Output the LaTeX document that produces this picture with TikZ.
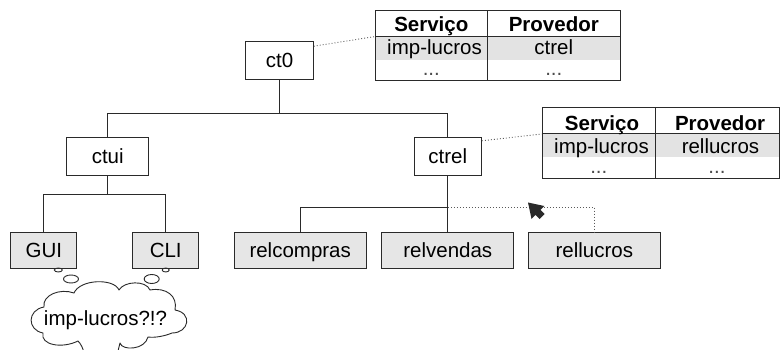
\documentclass[tikz,border=0pt]{standalone}
\usepackage{fontspec}
\setmainfont{Liberation Sans}
\usetikzlibrary{shapes.geometric,arrows.meta}
\definecolor{boxgray}{HTML}{E6E6E6}
\definecolor{rowgray}{HTML}{E3E3E3}
\definecolor{linec}{HTML}{2A2A2A}
\newcommand{\bigf}{\fontsize{20.5}{24}\selectfont}
\tikzset{
  box/.style={draw=linec, line width=1pt, inner sep=0pt, text height=14.7pt, text depth=0pt,
    minimum height=37.6pt, font=\bigf},
  leaf/.style={box, fill=boxgray, minimum height=36pt},
  conn/.style={draw=linec, line width=1pt},
  dotconn/.style={draw=black!65, line width=0.9pt, dash pattern=on 0.9pt off 2.1pt},
  tline/.style={draw=linec, line width=1pt},
  celltxt/.style={anchor=base, inner sep=0pt, font=\bigf},
  headtxt/.style={celltxt, font=\bigf\bfseries},
  dotstxt/.style={celltxt, text=black!70},
  bubble/.style={draw=linec, line width=0.9pt, ellipse, inner sep=0pt},
  cloudline/.style={draw=linec, line width=0.9pt, line join=round},
}
\begin{document}
\begin{tikzpicture}[x=1pt,y=-1pt]
\useasboundingbox (0,0) rectangle (780,350);
\clip (0,0) rectangle (780,350);
\fill[white] (0,0) rectangle (780,350);

% tree nodes
\node[box, minimum width=67.6pt] (ct0) at (279.5,60.5) {ct0};
\node[box, minimum width=82pt, minimum height=38.4pt] (ctui) at (107.7,156.5) {ctui};
\node[box, minimum width=67.4pt, minimum height=38.4pt] (ctrel) at (447.8,156.5) {ctrel};
\node[leaf, minimum width=65.7pt] (gui) at (43.8,250.3) {GUI};
\node[leaf, minimum width=66pt] (cli) at (165.7,250.3) {CLI};
\node[leaf, minimum width=131.7pt] (relcompras) at (300.2,250.3) {relcompras};
\node[leaf, minimum width=131.7pt] (relvendas) at (447.8,250.3) {relvendas};
\node[leaf, minimum width=131.3pt] (rellucros) at (594.4,250.3) {rellucros};

% tree connectors
\coordinate (bar0) at (279.5,113.3);
\coordinate (bar1) at (107.7,195);
\coordinate (jn) at (447.8,207.3);
\draw[conn] (ct0.south) -- (bar0);
\draw[conn] (ctui.north) -- (ctui.north |- bar0) -- (ctrel.north |- bar0) -- (ctrel.north);
\draw[conn] (ctui.south) -- (bar1);
\draw[conn] (gui.north) -- (gui.north |- bar1) -- (cli.north |- bar1) -- (cli.north);
\draw[conn] (ctrel.south) -- (relvendas.north);
\draw[conn] (relcompras.north) |- (jn);
\draw[dotconn] (jn) -| (rellucros.north);

% arrowhead
\coordinate (arrtip) at (528,202.5);
\fill[linec] (arrtip) -- (544.3,206.0) -- (540.4,209.9) -- (544.6,214.1) -- (539.6,219.1)
  -- (535.4,214.9) -- (531.5,218.8) -- cycle;

% table 1
\coordinate (t1nw) at (375,11);
\coordinate (t1se) at (620,81);
\fill[rowgray] (375.5,36.7) rectangle (619.5,60);
\draw[tline] (t1nw) rectangle (t1se);
\draw[tline] (375,36.7) -- (620,36.7);
\draw[tline] (487.7,11) -- (487.7,81);
\node[headtxt] (t1a) at (431.3,31.5) {Serviço};
\node[headtxt] (t1b) at (553.8,31.5) {Provedor};
\node[celltxt] (t1c) at (434.5,55) {imp-lucros};
\node[celltxt] (t1d) at (553.8,55) {ctrel};
\node[dotstxt] (t1e) at (431.3,76) {...};
\node[dotstxt] (t1f) at (553.8,76) {...};

% table 2
\coordinate (t2nw) at (542.7,107.7);
\coordinate (t2se) at (779.3,178.3);
\fill[rowgray] (543.2,133.3) rectangle (778.8,156.7);
\draw[tline] (t2nw) rectangle (t2se);
\draw[tline] (542.7,133.3) -- (779.3,133.3);
\draw[tline] (655,107.7) -- (655,178.3);
\node[headtxt] (t2a) at (602,130.5) {Serviço};
\node[headtxt] (t2b) at (720,130.5) {Provedor};
\node[celltxt] (t2c) at (601.5,154) {imp-lucros};
\node[celltxt] (t2d) at (720.5,154) {rellucros};
\node[dotstxt] (t2e) at (598.8,174) {...};
\node[dotstxt] (t2f) at (717,174) {...};

% dotted links to tables
\coordinate (t1link) at (374,36.7);
\coordinate (t2link) at (541.7,134);
\draw[dotconn] ([yshift=-5pt]ct0.north east) -- (t1link);
\draw[dotconn] ([yshift=-4pt]ctrel.north east) -- (t2link);

% thought bubbles
\node[bubble, minimum width=8pt, minimum height=4pt] (b1) at (58.3,270) {};
\node[bubble, minimum width=15pt, minimum height=8pt] (b2) at (71,279) {};
\node[bubble, minimum width=7pt, minimum height=4pt] (b3) at (165.7,270) {};
\node[bubble, minimum width=15pt, minimum height=9pt] (b4) at (151.7,279) {};

% cloud
\draw[cloudline] (85,356) .. controls (83,348) and (81,344) .. (78,341)
  .. controls (62,349) and (40,345) .. (43,333)
  .. controls (27,330) and (27,310) .. (44,307)
  .. controls (42,295) and (60,288) .. (74,293)
  .. controls (80,279) and (114,278) .. (119,290)
  .. controls (124,281) and (146,280) .. (150,290)
  .. controls (166,287) and (178,296) .. (175,310)
  .. controls (193,313) and (189,333) .. (172,333)
  .. controls (165,336) and (155,338) .. (148,337)
  .. controls (145,350) and (122,351) .. (120,343)
  .. controls (119,347) and (118,351) .. (117,356);
\node[celltxt] (cloudtxt) at (105.5,325) {imp-lucros?!?};
\end{tikzpicture}
\end{document}
